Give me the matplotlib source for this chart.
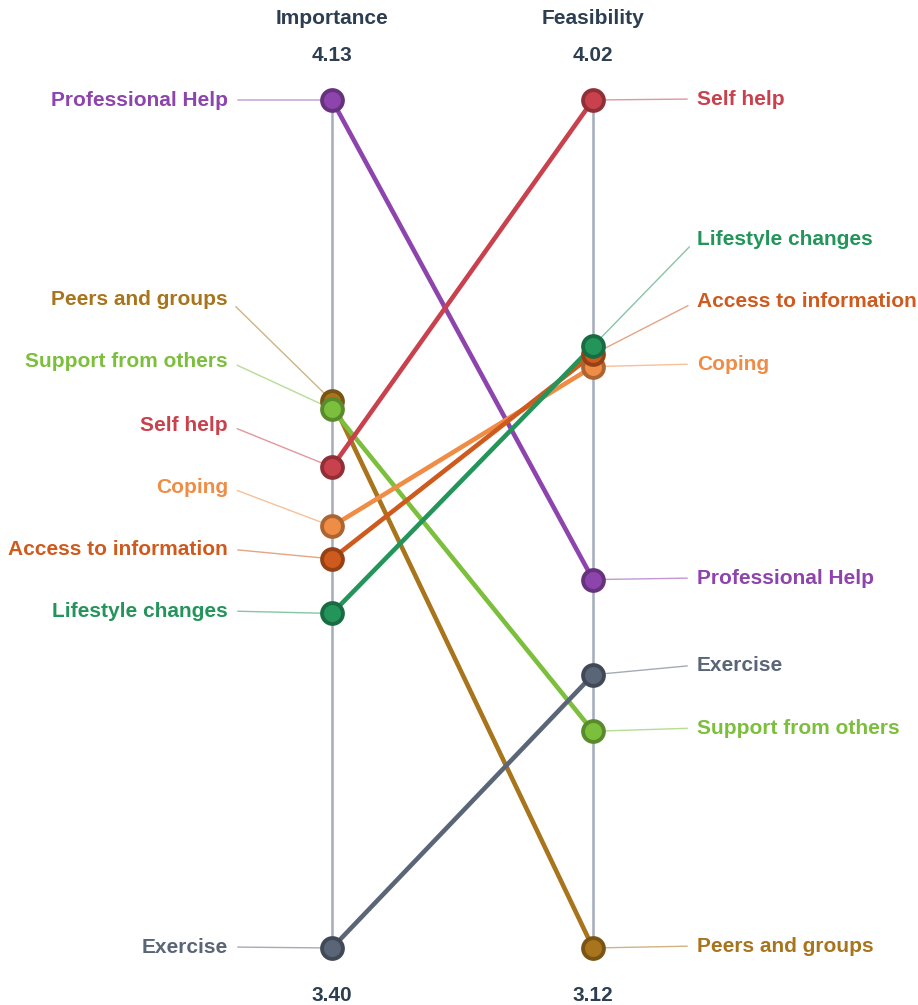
import matplotlib.pyplot as plt
from matplotlib.patches import ConnectionPatch
from matplotlib.colors import to_rgb
import numpy as np

plt.rcParams['font.family'] = ['Liberation Sans', 'DejaVu Sans']

categories = ["Professional Help", "Peers and groups", "Support from others", "Self help",
              "Coping", "Access to information", "Lifestyle changes", "Exercise"]
importance = [4.13, 3.871, 3.864, 3.814, 3.763, 3.735, 3.688, 3.40]
feasibility = [3.511, 3.12, 3.35, 4.02, 3.737, 3.750, 3.759, 3.41]
axis_names = ["Importance", "Feasibility"]

colors = ["#8e44ad", "#a8741c", "#7cbf3c", "#c9414d",
          "#ef8c45", "#cf5a1d", "#23955a", "#5a6678"]

# label layout (pixels from top of figure)
left_label_y = [100, 299, 361, 425, 487, 549, 611, 947]
right_label_y = [578, 946, 728, 99, 364, 301, 239, 665]

W, H = 918, 1005
FS = 15
fig = plt.figure(figsize=(W / 100, H / 100), dpi=100)
rect = [332 / W, (H - 948) / H, 261 / W, 848 / H]
ax1 = fig.add_axes(rect)
ax2 = fig.add_axes(rect)
ax1.set_xlim(0, 1)
ax2.set_xlim(0, 1)
ax1.set_ylim(min(importance), max(importance))
ax2.set_ylim(min(feasibility), max(feasibility))
ax1.set_axis_off()
ax2.set_axis_off()

axis_col = "#a3acbc"
ax1.axvline(0, color=axis_col, lw=1.8, zorder=1, clip_on=False)
ax1.axvline(1, color=axis_col, lw=1.8, zorder=1, clip_on=False)


def darker(c, f=0.72):
    return tuple(np.array(to_rgb(c)) * f)


def lighter(c, f=0.45):
    r = np.array(to_rgb(c))
    return tuple(r + (1 - r) * f)


title_col = "#2c3e50"
for x, a, tr, vals in [(0, axis_names[0], ax1.transData, importance),
                       (1, axis_names[1], ax2.transData, feasibility)]:
    ax1.annotate(a, xy=(x, max(vals)), xycoords=tr, xytext=(0, 82), textcoords="offset pixels",
                 ha="center", va="center", fontsize=FS, fontweight="bold", color=title_col)
    ax1.annotate(f"{max(vals):.2f}", xy=(x, max(vals)), xycoords=tr, xytext=(0, 45),
                 textcoords="offset pixels", ha="center", va="center", fontsize=FS,
                 fontweight="bold", color=title_col)
    ax1.annotate(f"{min(vals):.2f}", xy=(x, min(vals)), xycoords=tr, xytext=(0, -47),
                 textcoords="offset pixels", ha="center", va="center", fontsize=FS,
                 fontweight="bold", color=title_col)

for i, cat in enumerate(categories):
    c = colors[i]
    con = ConnectionPatch(xyA=(0, importance[i]), coordsA=ax1.transData,
                          xyB=(1, feasibility[i]), coordsB=ax2.transData,
                          color=c, lw=3.3, zorder=3 + i * 0.01, capstyle="round")
    ax1.add_artist(con)

for i, cat in enumerate(categories):
    c = colors[i]
    ax1.plot([0], [importance[i]], "o", ms=15, mfc=c, mec=darker(c), mew=2.8,
             clip_on=False, zorder=5 + i * 0.01)
    ax1.plot([1], [feasibility[i]], "o", ms=15, mfc=c, mec=darker(c), mew=2.8,
             clip_on=False, zorder=5 + i * 0.01, transform=ax2.transData)

    ax1.annotate(cat, xy=(0, importance[i]), xycoords=ax1.transData,
                 xytext=(228, H - left_label_y[i]), textcoords="figure pixels",
                 ha="right", va="center", fontsize=FS, fontweight="bold", color=c,
                 arrowprops=dict(arrowstyle="-", color=lighter(c), lw=1.0,
                                 shrinkA=5, shrinkB=0, relpos=(1, 0.5)),
                 zorder=2)
    ax1.annotate(cat, xy=(1, feasibility[i]), xycoords=ax2.transData,
                 xytext=(697, H - right_label_y[i]), textcoords="figure pixels",
                 ha="left", va="center", fontsize=FS, fontweight="bold", color=c,
                 arrowprops=dict(arrowstyle="-", color=lighter(c), lw=1.0,
                                 shrinkA=5, shrinkB=0, relpos=(0, 0.5)),
                 zorder=2)

fig.savefig("out.png", dpi=100)
